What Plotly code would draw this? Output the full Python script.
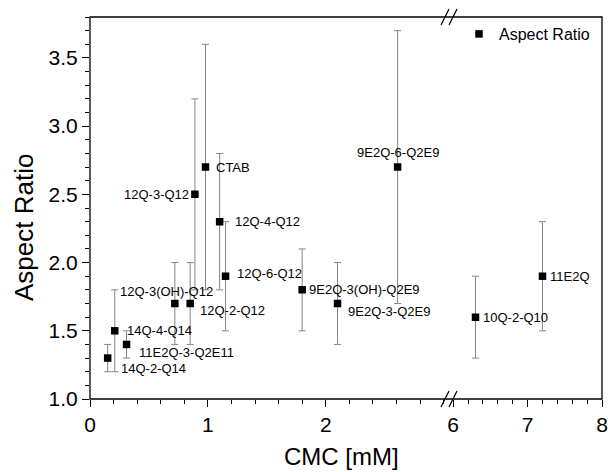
import plotly.graph_objects as go

# ---------------- data ----------------
names_left = ["14Q-2-Q14", "14Q-4-Q14", "11E2Q-3-Q2E11", "12Q-3(OH)-Q12", "12Q-2-Q12",
              "12Q-3-Q12", "CTAB", "12Q-4-Q12", "12Q-6-Q12", "9E2Q-3(OH)-Q2E9",
              "9E2Q-3-Q2E9", "9E2Q-6-Q2E9"]
cmc_left = [0.15, 0.21, 0.31, 0.72, 0.85, 0.89, 0.98, 1.10, 1.15, 1.80, 2.10, 2.61]
ar_left = [1.3, 1.5, 1.4, 1.7, 1.7, 2.5, 2.7, 2.3, 1.9, 1.8, 1.7, 2.7]
err_left = [0.1, 0.3, 0.1, 0.3, 0.3, 0.7, 0.9, 0.5, 0.4, 0.3, 0.3, 1.0]

names_right = ["10Q-2-Q10", "11E2Q"]
cmc_right = [6.30, 7.20]
ar_right = [1.6, 1.9]
err_right = [0.3, 0.4]

x_ticks_left = [0, 1, 2]
x_ticks_right = [6, 7, 8]
y_ticks = [1.0, 1.5, 2.0, 2.5, 3.0, 3.5]

# ---------------- layout geometry (pixels) ----------------
W, H = 608, 472
L, R, T, B = 90, 6, 17, 73
PW = W - L - R
PH = H - T - B
left_end_px = 443.6
right_start_px = 453.2


def px2paper_x(px):
    return (px - L) / PW


def px2paper_y(py):
    return (H - B - py) / PH


# label placement: (xanchor, xshift, yshift)
label_place = {
    "14Q-2-Q14": ("left", 11, -10),
    "14Q-4-Q14": ("left", 10, 0),
    "11E2Q-3-Q2E11": ("left", 10, -8),
    "12Q-3(OH)-Q12": ("center", -8, 12),
    "12Q-2-Q12": ("left", 8, -7),
    "12Q-3-Q12": ("right", -4, 0),
    "CTAB": ("left", 8, 0),
    "12Q-4-Q12": ("left", 13, 0),
    "12Q-6-Q12": ("left", 9, 3),
    "9E2Q-3(OH)-Q2E9": ("left", 5, 0),
    "9E2Q-3-Q2E9": ("left", 8, -8),
    "9E2Q-6-Q2E9": ("center", 0, 15),
    "10Q-2-Q10": ("left", 5, 0),
    "11E2Q": ("left", 6, 0),
}

FONT = "Liberation Sans, Arial, sans-serif"
err_style = dict(type="data", visible=True, color="#858585", thickness=1, width=3.5)
marker_style = dict(symbol="square", size=7.5, color="black")

fig = go.Figure()
fig.add_trace(go.Scatter(
    x=cmc_left, y=ar_left, mode="markers", name="Aspect Ratio",
    marker=marker_style, error_y=dict(array=err_left, **err_style),
    xaxis="x", yaxis="y", showlegend=True))
fig.add_trace(go.Scatter(
    x=cmc_right, y=ar_right, mode="markers", name="Aspect Ratio",
    marker=marker_style, error_y=dict(array=err_right, **err_style),
    xaxis="x2", yaxis="y", showlegend=False))

annotations = []
for names, xs, ys, xref in [(names_left, cmc_left, ar_left, "x"),
                            (names_right, cmc_right, ar_right, "x2")]:
    for n, xv, yv in zip(names, xs, ys):
        xa, xs_, ys_ = label_place[n]
        annotations.append(dict(
            x=xv, y=yv, xref=xref, yref="y", text=n, showarrow=False,
            xanchor=xa, yanchor="middle", xshift=xs_, yshift=ys_,
            font=dict(family=FONT, size=13, color="black")))

# axis titles
annotations.append(dict(
    x=px2paper_x(341.5), y=0, xref="paper", yref="paper", text="CMC [mM]",
    showarrow=False, xanchor="center", yanchor="middle", yshift=-57,
    font=dict(family=FONT, size=24, color="black")))
annotations.append(dict(
    x=0, y=px2paper_y(228), xref="paper", yref="paper", text="Aspect Ratio",
    showarrow=False, xanchor="center", yanchor="middle", xshift=-66, textangle=-90,
    font=dict(family=FONT, size=26, color="black")))

line_c = "black"
lw = 1.3
shapes = [
    dict(type="rect", xref="paper", yref="paper", x0=0, x1=1, y0=0, y1=1,
         line=dict(color=line_c, width=lw), fillcolor="rgba(0,0,0,0)"),
]
for yb in (0, 1):
    for xb in (445, 453):
        shapes.append(dict(
            type="line", xref="paper", yref="paper",
            xsizemode="pixel", ysizemode="pixel",
            xanchor=px2paper_x(xb), yanchor=yb,
            x0=-4, x1=4, y0=-8, y1=8,
            line=dict(color=line_c, width=1.2)))

tick_font = dict(family=FONT, size=21, color="black")
common_x = dict(showline=False, showgrid=False, zeroline=False, ticks="outside",
                ticklen=7, tickwidth=1.2, tickcolor="black", tickfont=tick_font,
                anchor="y", tickmode="array", automargin=False)

fig.update_layout(
    width=W, height=H,
    margin=dict(l=L, r=R, t=T, b=B, autoexpand=False),
    paper_bgcolor="white", plot_bgcolor="white",
    font=dict(family=FONT, color="black"),
    xaxis=dict(domain=[0, px2paper_x(left_end_px)], range=[0, 3.0],
               tickvals=x_ticks_left, ticktext=[str(v) for v in x_ticks_left],
               minor=dict(dtick=0.2, tick0=0, ticks="outside", ticklen=4,
                          tickwidth=1.2, tickcolor="black", showgrid=False),
               **common_x),
    xaxis2=dict(domain=[px2paper_x(right_start_px), 1], range=[6, 8],
                tickvals=x_ticks_right, ticktext=[str(v) for v in x_ticks_right],
                minor=dict(dtick=0.2, tick0=6, ticks="outside", ticklen=4,
                           tickwidth=1.2, tickcolor="black", showgrid=False),
                **common_x),
    yaxis=dict(range=[1.0, 3.8], tickmode="array", tickvals=y_ticks,
               ticktext=[f"{v:.1f}" for v in y_ticks], automargin=False,
               showline=False, showgrid=False, zeroline=False,
               ticks="outside", ticklen=7, tickwidth=1.2, tickcolor="black",
               tickfont=tick_font,
               minor=dict(dtick=0.1, tick0=1.0, ticks="outside", ticklen=4,
                          tickwidth=1.2, tickcolor="black", showgrid=False)),
    legend=dict(x=px2paper_x(459), y=1, xanchor="left", yanchor="top",
                bgcolor="rgba(0,0,0,0)", font=dict(family=FONT, size=16, color="black")),
    annotations=annotations,
    shapes=shapes,
)

fig.write_html(
    "out.html",
    config={"displayModeBar": False},
    post_script="document.body.style.margin='0';document.body.style.padding='0';"
                "document.body.style.overflow='hidden';",
)
